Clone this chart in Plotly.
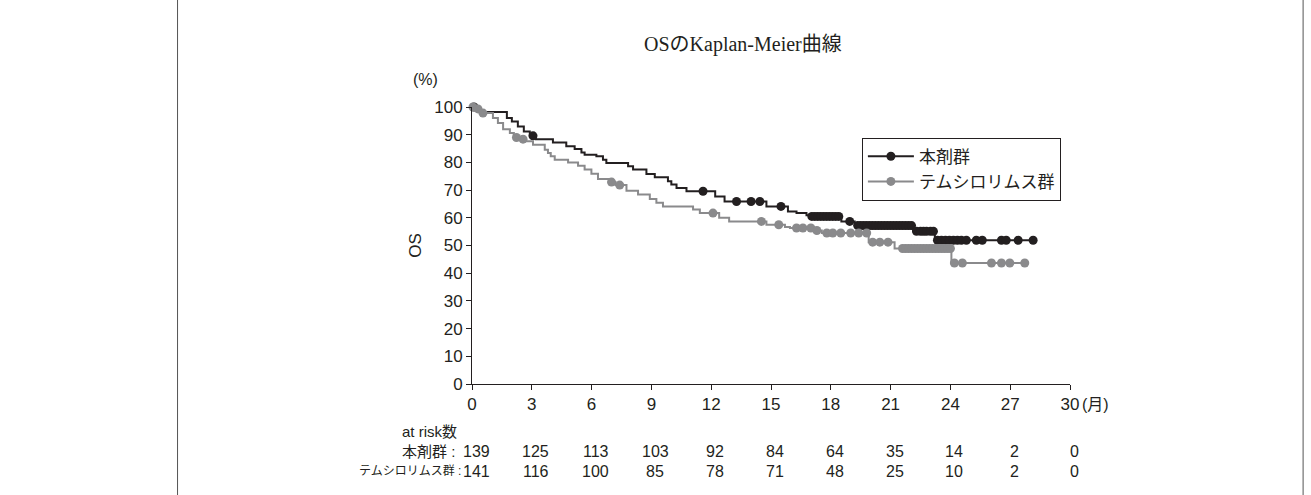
import numpy as np
import plotly.graph_objects as go

# ---- data ----
month_ticks = [0, 3, 6, 9, 12, 15, 18, 21, 24, 27, 30]
os_ticks = [0, 10, 20, 30, 40, 50, 60, 70, 80, 90, 100]

# 本剤群: event times (months) and OS (%) after each step
drug_event_t = [0.35, 1.75, 2.0, 2.3, 2.6, 2.9, 3.2, 4.06, 4.73, 5.15, 5.49, 5.65,
                6.24, 6.57, 6.74, 7.83, 8.08, 8.75, 9.17, 9.83, 10.0, 10.26, 10.76,
                12.2, 12.67, 14.77, 15.85, 16.28, 16.78, 17.0, 18.53, 19.2, 22.13, 23.22]
drug_event_s = [98.2, 96.0, 94.8, 93.0, 91.2, 89.6, 88.4, 87.2, 85.8, 84.8, 83.6, 82.8,
                82.2, 81.0, 79.8, 78.6, 77.4, 75.8, 74.6, 73.2, 72.0, 70.8, 69.6,
                67.7, 65.9, 64.1, 62.3, 61.7, 60.9, 60.5, 58.7, 57.2, 55.1, 51.9]
drug_censor_t = [0.1, 3.06, 11.59, 13.27, 14.0, 14.44, 15.5,
                 17.05, 17.2, 17.35, 17.5, 17.65, 17.8, 17.95, 18.1, 18.25, 18.4,
                 18.95, 19.35, 19.5, 19.65, 19.8, 19.95, 20.1, 20.25, 20.4, 20.55, 20.7,
                 20.85, 21.0, 21.15, 21.3, 21.45, 21.6, 21.75, 21.9, 22.05,
                 22.3, 22.5, 22.65, 22.8, 23.0, 23.15,
                 23.35, 23.55, 23.75, 23.95, 24.15, 24.35, 24.55, 24.8,
                 25.3, 25.6, 26.56, 26.8, 27.4, 28.15]

# テムシロリムス群
temsi_event_t = [0.2, 0.45, 1.05, 1.3, 1.56, 1.9, 2.1, 2.4, 2.7, 3.06, 3.65, 3.81, 3.95,
                 4.15, 4.82, 5.32, 5.65, 5.99, 6.32, 6.9, 7.2, 7.75, 8.33, 8.92, 9.25,
                 9.58, 11.09, 11.43, 12.4, 12.9, 14.77, 15.7, 15.95, 17.2, 17.55, 19.9,
                 21.2, 24.05]
temsi_event_s = [99.3, 97.8, 96.0, 94.2, 92.0, 90.6, 89.0, 88.4, 87.6, 86.4, 84.6, 83.4, 82.2,
                 81.0, 80.0, 78.8, 77.4, 75.9, 74.0, 72.9, 71.8, 69.8, 68.4, 66.8, 65.4,
                 64.1, 63.0, 61.7, 60.0, 58.7, 57.5, 56.7, 56.3, 55.4, 54.5, 51.2,
                 48.9, 43.7]
temsi_censor_t = [0.05, 0.3, 0.55, 2.23, 2.56, 7.0, 7.41, 12.09, 14.52, 15.39,
                  16.28, 16.6, 17.0, 17.3, 17.8, 18.1, 18.5, 19.0, 19.4, 19.8,
                  20.1, 20.46, 20.87,
                  21.6, 21.75, 21.9, 22.05, 22.2, 22.35, 22.5, 22.65, 22.8, 22.95,
                  23.1, 23.25, 23.4, 23.55, 23.7, 23.85, 24.0,
                  24.2, 24.6, 26.06, 26.56, 26.98, 27.73]

risk_drug = [139, 125, 113, 103, 92, 84, 64, 35, 14, 2, 0]
risk_temsi = [141, 116, 100, 85, 78, 71, 48, 25, 10, 2, 0]

group_names = ["本剤群", "テムシロリムス群"]
group_colors = ["#231f20", "#8a8a8c"]

SANS = "Liberation Sans, Arial, Noto Sans CJK JP, sans-serif"
SERIF = "Liberation Serif, Times New Roman, Noto Sans CJK JP, serif"
INK = "#231f20"


def km_path(t_ev, s_ev, t_end):
    xs = [0.0] + list(t_ev) + [t_end]
    ys = [100.0] + list(s_ev) + [s_ev[-1]]
    return xs, ys


def step_value(t_ev, s_ev, times):
    idx = np.searchsorted(np.asarray(t_ev), np.asarray(times), side="right")
    vals = np.concatenate([[100.0], np.asarray(s_ev)])
    return vals[idx]


fig = go.Figure()
groups = [(drug_event_t, drug_event_s, drug_censor_t),
          (temsi_event_t, temsi_event_s, temsi_censor_t)]
for (t_ev, s_ev, c_t), name, col in zip(groups, group_names, group_colors):
    xs, ys = km_path(t_ev, s_ev, max(c_t))
    fig.add_trace(go.Scatter(x=xs, y=ys, mode="lines", line=dict(color=col, width=2, shape="hv"),
                             showlegend=False, hoverinfo="skip", cliponaxis=False))
    fig.add_trace(go.Scatter(x=c_t, y=step_value(t_ev, s_ev, c_t), mode="markers",
                             marker=dict(color=col, size=9), showlegend=False,
                             cliponaxis=False))
    # legend entry: line with a marker
    fig.add_trace(go.Scatter(x=[None], y=[None], mode="lines+markers", name=name,
                             line=dict(color=col, width=2), marker=dict(color=col, size=9)))

# number-at-risk table
row_y = [-0.171, -0.2435, -0.3157]
ann = []
ann.append(dict(text="at risk数", x=-0.121, y=row_y[0], xref="paper", yref="paper",
                xanchor="left", yanchor="middle", showarrow=False,
                font=dict(family=SANS, size=15, color=INK)))
ann.append(dict(text="本剤群 :", x=-0.121, y=row_y[1], xref="paper", yref="paper",
                xanchor="left", yanchor="middle", showarrow=False,
                font=dict(family=SANS, size=15, color=INK)))
ann.append(dict(text="テムシロリムス群 :", x=-0.015, y=row_y[2], xref="paper", yref="paper",
                xanchor="right", yanchor="middle", showarrow=False,
                font=dict(family=SANS, size=12, color=INK)))
for counts, yy in zip([risk_drug, risk_temsi], row_y[1:]):
    for t, n in zip(month_ticks, counts):
        ann.append(dict(text=str(n), x=t, y=yy, xref="x", yref="paper",
                        xanchor="center", yanchor="middle", showarrow=False, xshift=4,
                        font=dict(family=SANS, size=16, color=INK)))

ann += [
    dict(text="OSのKaplan-Meier曲線", x=0.453, y=1.225, xref="paper", yref="paper",
         xanchor="center", yanchor="middle", showarrow=False,
         font=dict(family=SERIF, size=20, color=INK)),
    dict(text="(%)", x=-0.078, y=1.1, xref="paper", yref="paper",
         xanchor="center", yanchor="middle", showarrow=False,
         font=dict(family=SANS, size=16, color=INK)),
    dict(text="OS", x=-0.095, y=0.5, xref="paper", yref="paper", textangle=-90,
         xanchor="center", yanchor="middle", showarrow=False,
         font=dict(family=SANS, size=17, color=INK)),
    dict(text="(月)", x=1.016, y=-0.075, xref="paper", yref="paper",
         xanchor="left", yanchor="middle", showarrow=False,
         font=dict(family=SANS, size=16, color=INK)),
]

# cell borders
shapes = [
    dict(type="line", xref="paper", yref="paper", x0=-0.4924, x1=-0.4924, y0=-0.41, y1=1.41,
         line=dict(color="#555555", width=1)),
    dict(type="line", xref="paper", yref="paper", x0=1.3898, x1=1.3898, y0=-0.41, y1=1.41,
         line=dict(color="#555555", width=1)),
]

fig.update_layout(
    width=1311, height=495,
    margin=dict(l=472, r=241, t=107, b=111),
    paper_bgcolor="white", plot_bgcolor="white",
    showlegend=True,
    legend=dict(x=0.652, y=0.889, xanchor="left", yanchor="top",
                bordercolor=INK, borderwidth=1, bgcolor="white",
                font=dict(family=SANS, size=17, color=INK),
                itemwidth=46, tracegroupgap=0),
    annotations=ann, shapes=shapes,
    xaxis=dict(range=[0, 30], tickvals=month_ticks, ticks="outside", ticklen=5,
               tickcolor=INK, showline=True, linecolor=INK, linewidth=1, showgrid=False,
               zeroline=False, tickfont=dict(family=SANS, size=17, color=INK)),
    yaxis=dict(range=[0, 100], tickvals=os_ticks, ticks="outside", ticklen=5,
               tickcolor=INK, showline=True, linecolor=INK, linewidth=1, showgrid=False,
               zeroline=False, tickfont=dict(family=SANS, size=17, color=INK)),
)

fig.write_html("out.html")
